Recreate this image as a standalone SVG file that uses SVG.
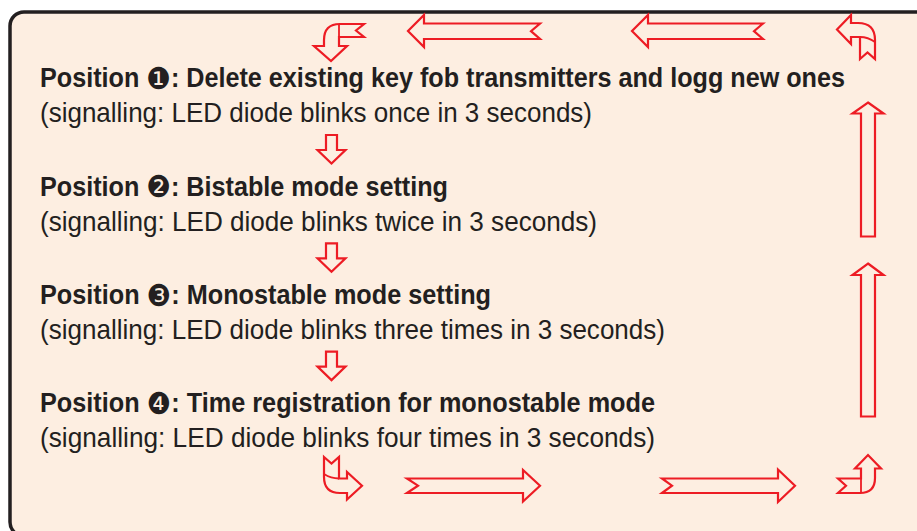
<svg xmlns="http://www.w3.org/2000/svg" width="917" height="531" viewBox="0 0 917 531">
<defs>
<style>
.frame{fill:#fdeee1;stroke:#231f20;stroke-width:3.5}
.arr{fill:none;stroke:#ed1c24;stroke-width:2.2;stroke-linejoin:miter}
.fold{fill:none;stroke:#ed1c24;stroke-width:1.8}
.b{font-family:"Liberation Sans",Arial,sans-serif;font-weight:700;font-size:27.5px;fill:#231f20}
.r{font-family:"Liberation Sans",Arial,sans-serif;font-size:27.5px;fill:#231f20}
.n{font-family:"DejaVu Sans",sans-serif;font-size:30px;font-weight:400}
</style>
</defs>
<rect x="0" y="0" width="917" height="531" fill="#ffffff"/>
<g id="frame"><rect class="frame" x="10" y="12" width="930" height="524" rx="14"/></g>
<g id="pos1">
<text class="b" x="40" y="87" textLength="805" lengthAdjust="spacingAndGlyphs">Position <tspan class="n" dy="1.5">❶</tspan><tspan dy="-1.5">: Delete existing key fob transmitters and logg new ones</tspan></text>
<text class="r" x="40" y="122" textLength="552" lengthAdjust="spacingAndGlyphs">(signalling: LED diode blinks once in 3 seconds)</text>
</g>
<g id="pos2">
<text class="b" x="40" y="195.5" textLength="408" lengthAdjust="spacingAndGlyphs">Position <tspan class="n" dy="1.5">❷</tspan><tspan dy="-1.5">: Bistable mode setting</tspan></text>
<text class="r" x="40" y="230.5" textLength="557" lengthAdjust="spacingAndGlyphs">(signalling: LED diode blinks twice in 3 seconds)</text>
</g>
<g id="pos3">
<text class="b" x="40" y="304" textLength="451" lengthAdjust="spacingAndGlyphs">Position <tspan class="n" dy="1.5">❸</tspan><tspan dy="-1.5">: Monostable mode setting</tspan></text>
<text class="r" x="40" y="339" textLength="625" lengthAdjust="spacingAndGlyphs">(signalling: LED diode blinks three times in 3 seconds)</text>
</g>
<g id="pos4">
<text class="b" x="40" y="412" textLength="615" lengthAdjust="spacingAndGlyphs">Position <tspan class="n" dy="1.5">❹</tspan><tspan dy="-1.5">: Time registration for monostable mode</tspan></text>
<text class="r" x="40" y="447" textLength="615" lengthAdjust="spacingAndGlyphs">(signalling: LED diode blinks four times in 3 seconds)</text>
</g>
<g id="connectors">
<path class="arr" d="M326,135 L337,135 L337,150 L345.5,150 L331.5,163.5 L317.5,150 L326,150 Z"/>
<path class="arr" d="M326,243.3 L337,243.3 L337,258.3 L345.5,258.3 L331.5,271.8 L317.5,258.3 L326,258.3 Z"/>
<path class="arr" d="M326,351.6 L337,351.6 L337,366.6 L345.5,366.6 L331.5,380.1 L317.5,366.6 L326,366.6 Z"/>
<path class="arr" d="M324,457 L331.5,463.5 L339,457 L339,478.5 L347,478.5 L347,472 L362,485.7 L347,499.5 L347,493 L340,493 Q324,493 324,477 Z"/>
<path class="fold" d="M324,474 Q331,478.5 339,478.5"/>
<path class="arr" d="M407,478.5 L523,478.5 L523,470 L540,485.7 L523,501.5 L523,493 L407,493 L418,485.7 Z"/>
<path class="arr" d="M662,478.5 L778,478.5 L778,469.5 L795,485.7 L778,502 L778,493 L662,493 L672,485.7 Z"/>
<path class="arr" d="M838,478.5 L861,478.5 L861,468.5 L855,468.5 L868,455 L881,468.5 L875,468.5 L875,478 Q875,493 860,493 L838,493 L846,485.7 Z"/>
<path class="fold" d="M861,478.5 L861,493"/>
<path class="arr" d="M868,263.5 L883.5,275 L875,275 L875,416.5 L861,416.5 L861,275 L852.5,275 Z"/>
<path class="arr" d="M868,102.5 L883.5,113.5 L875,113.5 L875,236.5 L861,236.5 L861,113.5 L852.5,113.5 Z"/>
<path class="arr" d="M860,59 L867.5,52.5 L875,59 L875,40 Q875,23 858,23 L851,23 L851,15 L837,29.5 L851,44 L851,37 L860,37 Z"/>
<path class="fold" d="M860,37 Q868,37 875,42"/>
<path class="arr" d="M763,23.5 L648,23.5 L648,15 L632,31 L648,47 L648,39 L763,39 L754,31.2 Z"/>
<path class="arr" d="M540,23.5 L424,23.5 L424,15 L408,31 L424,47 L424,39 L540,39 L531,31.2 Z"/>
<path class="arr" d="M364,24 L340,24 Q324,24 324,40 L324,46 L314,46 L331,61 L347,46 L339,46 L339,37 L364,37 L356,30.5 Z"/>
<path class="fold" d="M339,24 L339,37"/>
</g>
</svg>
